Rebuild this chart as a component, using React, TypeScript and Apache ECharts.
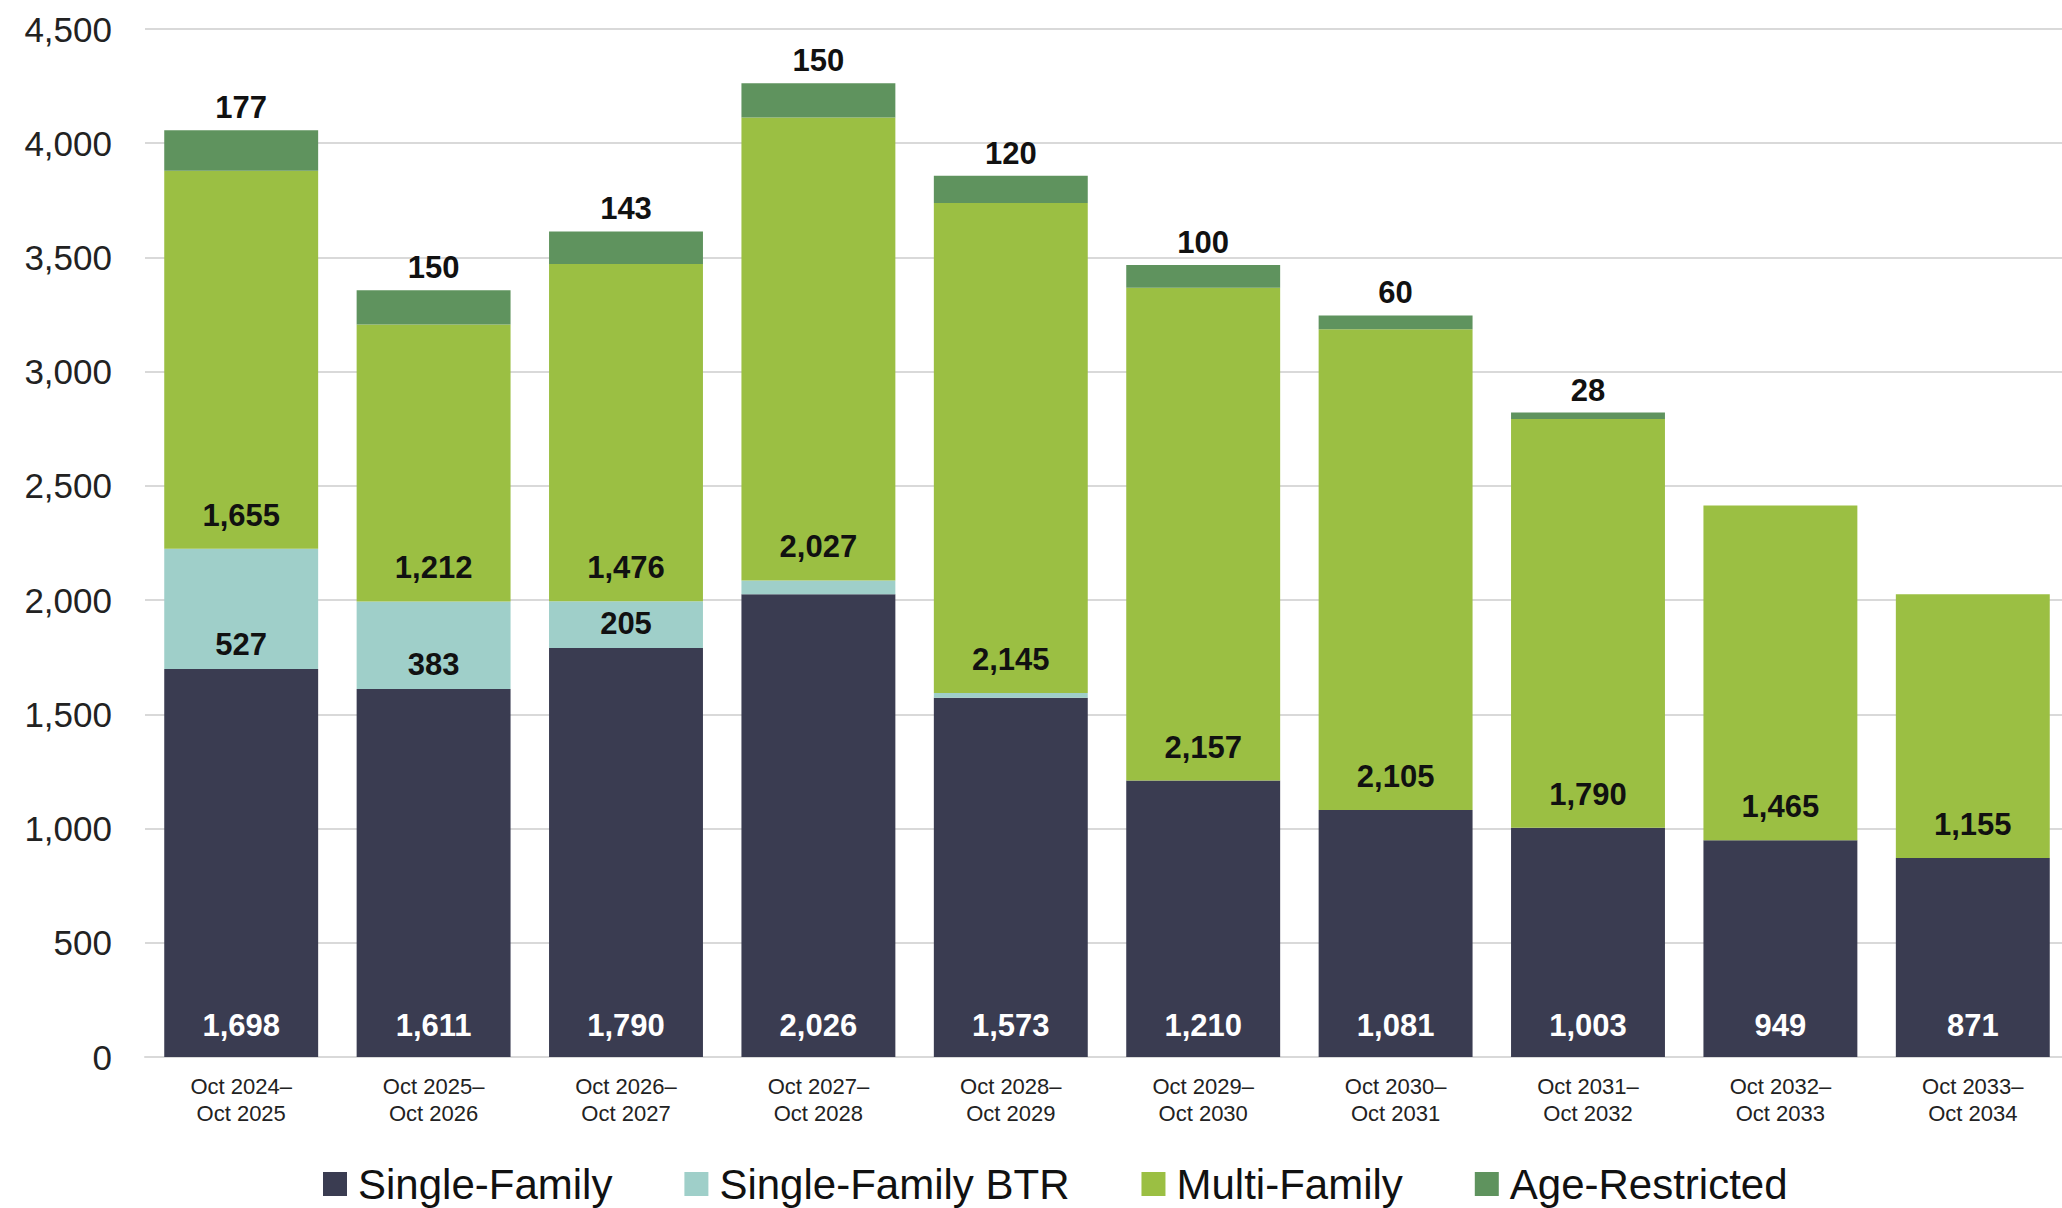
import React, { useEffect, useRef } from "react";
import * as echarts from "echarts";

const categories = [
  "Oct 2024–\nOct 2025",
  "Oct 2025–\nOct 2026",
  "Oct 2026–\nOct 2027",
  "Oct 2027–\nOct 2028",
  "Oct 2028–\nOct 2029",
  "Oct 2029–\nOct 2030",
  "Oct 2030–\nOct 2031",
  "Oct 2031–\nOct 2032",
  "Oct 2032–\nOct 2033",
  "Oct 2033–\nOct 2034",
];
const singleFamily = [1698, 1611, 1790, 2026, 1573, 1210, 1081, 1003, 949, 871];
const singleFamilyBTR = [527, 383, 205, 60, 20, 0, 0, 0, 0, 0];
const multiFamily = [1655, 1212, 1476, 2027, 2145, 2157, 2105, 1790, 1465, 1155];
const ageRestricted = [177, 150, 143, 150, 120, 100, 60, 28, 0, 0];
const btrLabelMin = 100;

const fmt = (v: number) => v.toLocaleString("en-US");
const labelFont = "Liberation Sans";

export default function App() {
  const ref = useRef<HTMLDivElement>(null);
  useEffect(() => {
    if (!ref.current) return;
    const chart = echarts.init(ref.current, null, { renderer: "svg" });
    const baseLabel = {
      show: true,
      fontFamily: labelFont,
      fontSize: 31,
      fontWeight: "bold" as const,
      color: "#111111",
    };
    chart.setOption({
      animation: false,
      backgroundColor: "#ffffff",
      grid: { left: 145, top: 29, width: 1924, height: 1028, containLabel: false },
      legend: {
        left: 318,
        top: 1157,
        itemWidth: 24,
        itemHeight: 24,
        itemGap: 72,
        icon: "rect",
        textStyle: {
          fontFamily: labelFont,
          fontSize: 42,
          lineHeight: 44,
          color: "#111111",
          padding: [0, 0, 0, 6],
        },
        data: ["Single-Family", "Single-Family BTR", "Multi-Family", "Age-Restricted"],
      },
      xAxis: {
        type: "category",
        data: categories,
        axisLine: { show: true, lineStyle: { color: "#d9d9d9", width: 2 } },
        axisTick: { show: false },
        axisLabel: {
          fontFamily: labelFont,
          fontSize: 22,
          color: "#222222",
          lineHeight: 27,
          margin: 16,
          interval: 0,
        },
      },
      yAxis: {
        type: "value",
        min: 0,
        max: 4500,
        interval: 500,
        axisLine: { show: false },
        axisTick: { show: false },
        splitLine: { lineStyle: { color: "#d9d9d9", width: 2 } },
        axisLabel: {
          fontFamily: labelFont,
          fontSize: 35,
          color: "#222222",
          margin: 33,
          formatter: (v: number) => fmt(v),
        },
      },
      series: [
        {
          name: "Single-Family",
          type: "bar",
          stack: "total",
          barWidth: "80%",
          data: singleFamily,
          itemStyle: { color: "#3a3c51" },
          label: {
            ...baseLabel,
            color: "#ffffff",
            position: "insideBottom",
            distance: 16,
            formatter: (p: any) => fmt(p.value),
          },
        },
        {
          name: "Single-Family BTR",
          type: "bar",
          stack: "total",
          data: singleFamilyBTR,
          itemStyle: { color: "#9fcfc9" },
          label: {
            ...baseLabel,
            position: "insideBottom",
            distance: 9,
            formatter: (p: any) => (p.value >= btrLabelMin ? fmt(p.value) : ""),
          },
        },
        {
          name: "Multi-Family",
          type: "bar",
          stack: "total",
          data: multiFamily,
          itemStyle: { color: "#9bbf43" },
          label: {
            ...baseLabel,
            position: "insideBottom",
            distance: 18,
            formatter: (p: any) => fmt(p.value),
          },
        },
        {
          name: "Age-Restricted",
          type: "bar",
          stack: "total",
          data: ageRestricted,
          itemStyle: { color: "#5f935e" },
          label: {
            ...baseLabel,
            position: "top",
            distance: 7,
            formatter: (p: any) => (p.value > 0 ? fmt(p.value) : ""),
          },
        },
      ],
    });
    return () => chart.dispose();
  }, []);
  return (
    <div
      style={{
        position: "absolute",
        left: 0,
        top: 0,
        width: 2062,
        height: 1208,
        overflow: "hidden",
        background: "#fff",
      }}
    >
      <div ref={ref} style={{ width: 2080, height: 1208 }} />
    </div>
  );
}
